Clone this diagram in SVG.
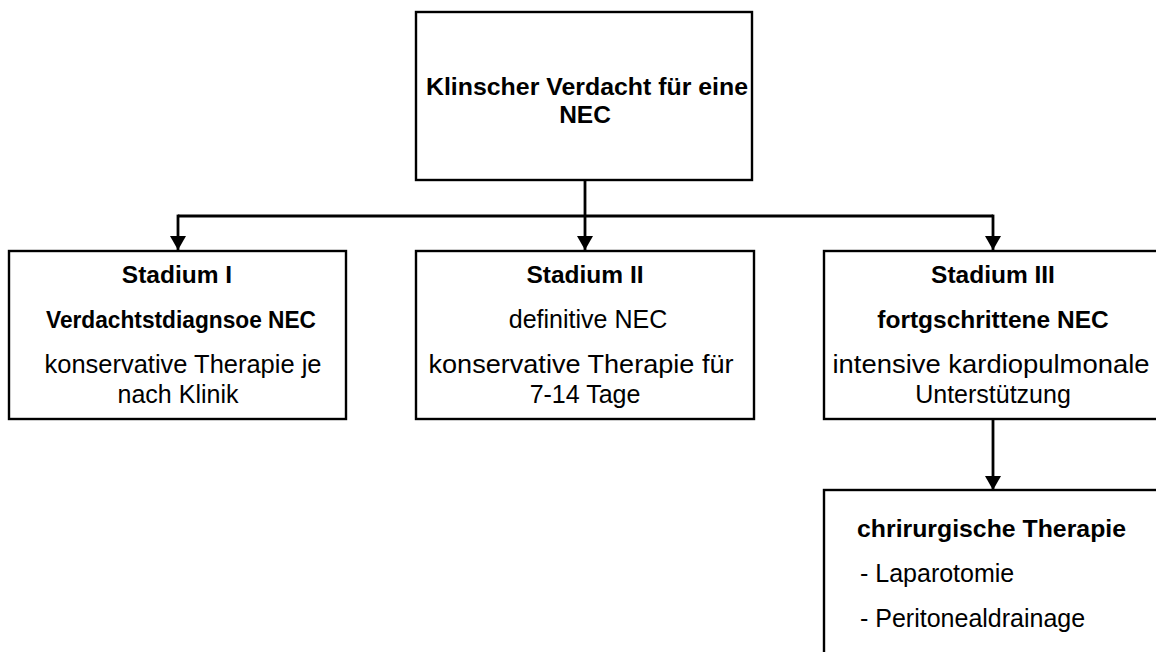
<svg xmlns="http://www.w3.org/2000/svg" width="1156" height="652" viewBox="0 0 1156 652">
<style>
.box{fill:#fff;stroke:#000;stroke-width:2.4}
.con{fill:none;stroke:#000;stroke-width:2.8}
text{font-family:"Liberation Sans",Arial,sans-serif;fill:#000}
.b{font-weight:bold;font-size:24.5px}
.r{font-size:25px}
.c{text-anchor:middle}
</style>
<defs>
<marker id="arrd" markerUnits="userSpaceOnUse" markerWidth="14" markerHeight="16" viewBox="0 0 14 16" refX="14" refY="8" orient="auto">
<path d="M0,0 L14,8 L0,16 Z" fill="#000"/>
</marker>
</defs>
<rect width="1156" height="652" fill="#fff"/>
<g id="connectors">
<line class="con" x1="178" y1="216" x2="993" y2="216"/>
<line class="con" x1="585" y1="180" x2="585" y2="250" marker-end="url(#arrd)"/>
<line class="con" x1="178" y1="214.6" x2="178" y2="250" marker-end="url(#arrd)"/>
<line class="con" x1="993" y1="214.6" x2="993" y2="250" marker-end="url(#arrd)"/>
<line class="con" x1="993" y1="419" x2="993" y2="490" marker-end="url(#arrd)"/>
</g>
<g id="node-verdacht">
<rect class="box" x="416" y="12" width="336" height="168"/>
<text class="b c" x="587" y="95" textLength="322" lengthAdjust="spacingAndGlyphs">Klinscher Verdacht für eine</text>
<text class="b c" x="585" y="123">NEC</text>
</g>
<g id="node-stadium1">
<rect class="box" x="9" y="251" width="337" height="168"/>
<text class="b c" x="177" y="283">Stadium I</text>
<text class="b c" x="181" y="328" textLength="270" lengthAdjust="spacingAndGlyphs">Verdachtstdiagnsoe NEC</text>
<text class="r c" x="183" y="373" textLength="277" lengthAdjust="spacingAndGlyphs">konservative Therapie je</text>
<text class="r c" x="178" y="403">nach Klinik</text>
</g>
<g id="node-stadium2">
<rect class="box" x="416" y="251" width="338" height="168"/>
<text class="b c" x="585" y="283">Stadium II</text>
<text class="r c" x="588" y="328">definitive NEC</text>
<text class="r c" x="581" y="373" textLength="305" lengthAdjust="spacingAndGlyphs">konservative Therapie für</text>
<text class="r c" x="585" y="403">7-14 Tage</text>
</g>
<g id="node-stadium3">
<rect class="box" x="824" y="251" width="340" height="168"/>
<text class="b c" x="993" y="283">Stadium III</text>
<text class="b c" x="993" y="328">fortgschrittene NEC</text>
<text class="r c" x="991" y="373" textLength="317" lengthAdjust="spacingAndGlyphs">intensive kardiopulmonale</text>
<text class="r c" x="993" y="403">Unterstützung</text>
</g>
<g id="node-chirurgisch">
<rect class="box" x="824" y="490" width="340" height="180"/>
<text class="b" x="857" y="537" textLength="269" lengthAdjust="spacingAndGlyphs">chrirurgische Therapie</text>
<text class="r" x="860" y="582">- Laparotomie</text>
<text class="r" x="860" y="627">- Peritonealdrainage</text>
</g>
</svg>
